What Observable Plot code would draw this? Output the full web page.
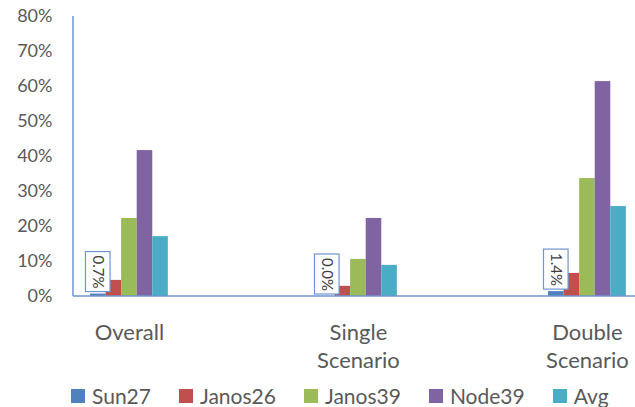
<!DOCTYPE html>
<html>
<head>
<meta charset="utf-8">
<script src="https://cdn.jsdelivr.net/npm/d3@7"></script>
<script src="https://cdn.jsdelivr.net/npm/@observablehq/plot@0.6"></script>
<style>
  html, body { margin: 0; padding: 0; background: #fff; }
  #chart { width: 635px; height: 407px; overflow: hidden; }
  .legend { display: flex; align-items: center; height: 41px; padding-left: 71px; font-family: Lato, sans-serif; font-size: 21px; color: #595959; }
  .legend .item { display: flex; align-items: center; margin-right: 28px; }
  .legend .sw { width: 14px; height: 14px; margin-right: 7px; }
</style>
</head>
<body>
<div id="chart"></div>
<script>
const categories = ["Overall", "Single Scenario", "Double Scenario"];
const categoryLabels = ["Overall", "Single\nScenario", "Double\nScenario"];
const series = ["Sun27", "Janos26", "Janos39", "Node39", "Avg"];
const colors = ["#4F81BD", "#C0504D", "#9BBB59", "#8064A2", "#4BACC6"];
const sun27 = [0.7, 0.0, 1.4];
const janos26 = [4.6, 2.9, 6.6];
const janos39 = [22.3, 10.6, 33.7];
const node39 = [41.7, 22.3, 61.4];
const avg = [17.1, 8.9, 25.7];
const yTicks = [0, 10, 20, 30, 40, 50, 60, 70, 80];
const labelledSeries = "Sun27";

const seriesValues = [sun27, janos26, janos39, node39, avg];
const data = [];
categories.forEach((c, ci) => {
  series.forEach((s, si) => {
    data.push({category: c, series: s, value: seriesValues[si][ci]});
  });
});
const labelData = data.filter(d => d.series === labelledSeries);

const axisColor = "#6F95CF";
const textColor = "#595959";

const chart = Plot.plot({
  width: 635,
  height: 375,
  marginLeft: 73,
  marginRight: 0,
  marginTop: 16,
  marginBottom: 79,
  style: {fontFamily: "Lato, sans-serif", background: "#fff"},
  fx: {domain: categories, paddingInner: 0.66, paddingOuter: 0.057, align: 0.65, axis: null, round: false},
  x: {domain: series, padding: 0, axis: null, round: false},
  y: {domain: [0, 80], axis: null},
  color: {domain: series, range: colors},
  marks: [
    Plot.barY(data, {fx: "category", x: "series", y: "value", fill: "series"}),
    Plot.barY(labelData, {fx: "category", x: "series", y1: "value", y2: "value",
      insetTop: -42, insetBottom: 2, insetLeft: -4.5, insetRight: -4.5,
      fill: "white", stroke: axisColor, strokeWidth: 1.2}),
    Plot.text(labelData, {fx: "category", x: "series", y: "value", text: d => d.value.toFixed(1) + "%",
      rotate: 90, dy: -22, fontSize: 15, fill: "#404040"}),
    Plot.axisY(yTicks, {tickSize: 0, tickPadding: 38, tickFormat: d => d + "%", fontSize: 18, fill: textColor, label: null}),
    Plot.text(categories, {fx: d => d, text: (d, i) => categoryLabels[i], frameAnchor: "bottom",
      lineAnchor: "top", dy: 24, fontSize: 22, lineHeight: 1.25, fill: textColor})
  ]
});

// axis lines drawn from Plot's y scale and margins
const ys = chart.scale("y");
const svg = d3.select(chart);
svg.append("line")
  .attr("x1", 73).attr("x2", 73)
  .attr("y1", ys.apply(80)).attr("y2", ys.apply(0))
  .attr("stroke", axisColor).attr("stroke-width", 1.5);
svg.append("line")
  .attr("x1", 73).attr("x2", 635)
  .attr("y1", ys.apply(0)).attr("y2", ys.apply(0))
  .attr("stroke", axisColor).attr("stroke-width", 1.5);

const root = document.getElementById("chart");
root.appendChild(chart);

const legend = document.createElement("div");
legend.className = "legend";
series.forEach((s, i) => {
  const item = document.createElement("div");
  item.className = "item";
  const sw = document.createElement("span");
  sw.className = "sw";
  sw.style.background = colors[i];
  const t = document.createElement("span");
  t.textContent = s;
  item.appendChild(sw);
  item.appendChild(t);
  legend.appendChild(item);
});
root.appendChild(legend);
</script>
</body>
</html>
